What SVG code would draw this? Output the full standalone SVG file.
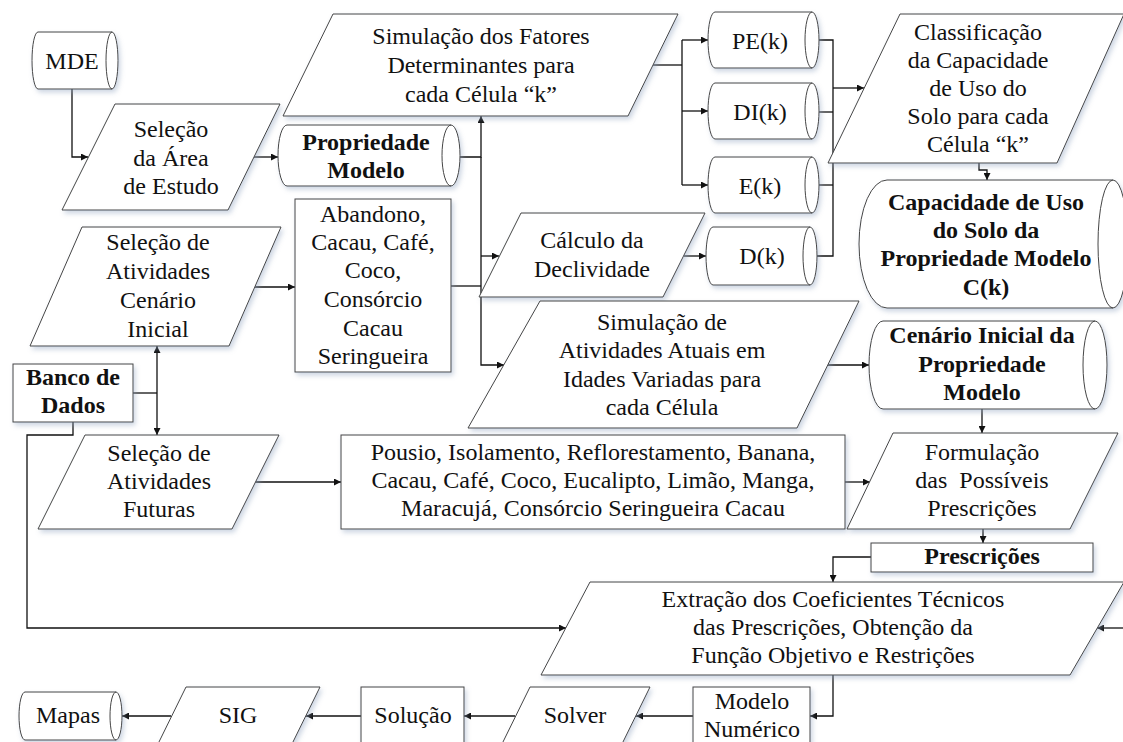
<svg xmlns="http://www.w3.org/2000/svg" width="1123" height="742" viewBox="0 0 1123 742">
<defs>
<style>
.s{fill:#fff;stroke:#454545;stroke-width:1;filter:url(#sh)}
.i{fill:none;stroke:#454545;stroke-width:1}
.t{font-family:"Liberation Serif","Times New Roman",serif;font-size:24px;fill:#111;text-anchor:middle}
.b{font-weight:bold}
.c{fill:none;stroke:#111;stroke-width:1.3}
.a{marker-end:url(#ar)}
.a2{marker-start:url(#ar);marker-end:url(#ar)}
</style>
<marker id="ar" viewBox="0 0 10 10" refX="10" refY="5" markerWidth="9" markerHeight="7" orient="auto-start-reverse" markerUnits="userSpaceOnUse">
<path d="M0,0 L10,5 L0,10 z" fill="#111"/>
</marker>
<filter id="sh" x="-10%" y="-10%" width="130%" height="140%">
<feDropShadow dx="2" dy="3" stdDeviation="2.5" flood-color="#8fa3c0" flood-opacity="0.45"/>
</filter>
</defs>
<rect width="1123" height="742" fill="#fff"/>

<g id="connectors">
<path class="c a" d="M72,89 V157 H88"/>
<path class="c a" d="M254,157 H278"/>
<path class="c a" d="M460,157 H481 V116"/>
<path class="c a" d="M481,157 V365 H504"/>
<path class="c" d="M451,286 H481"/>
<path class="c a" d="M481,256 H499"/>
<path class="c a" d="M684,256 H706"/>
<path class="c" d="M653,65 H682"/>
<path class="c" d="M682,40 V185"/>
<path class="c a" d="M682,40 H708"/>
<path class="c a" d="M682,111 H708"/>
<path class="c a" d="M682,185 H708"/>
<path class="c" d="M819,40 H833 V256 H817"/>
<path class="c" d="M819,112 H833"/>
<path class="c" d="M819,185 H833"/>
<path class="c a" d="M833,88 H864"/>
<path class="c a" d="M979,163 V170 H987 V180"/>
<path class="c a" d="M828,365 H869"/>
<path class="c a" d="M982,409 V433"/>
<path class="c a" d="M255,287 H295"/>
<path class="c" d="M133,393 H157"/>
<path class="c a2" d="M157,346 V435"/>
<path class="c a" d="M73,422 V435 H27 V628 H566"/>
<path class="c a" d="M255,482 H341"/>
<path class="c a" d="M845,482 H870"/>
<path class="c a" d="M983,529 V543"/>
<path class="c a" d="M871,557 H833 V582"/>
<path class="c a" d="M1123,628 H1097"/>
<path class="c a" d="M833,675 V716 H810"/>
<path class="c a" d="M693,716 H636"/>
<path class="c a" d="M515,716 H464"/>
<path class="c a" d="M361,716 H306"/>
<path class="c a" d="M171,716 H122"/>
</g>

<g id="mde">
<path class="s" d="M38,32 H112 A6,28.5 0 0 1 112,89 H38 A6,28.5 0 0 1 38,32 Z"/>
<path class="i" d="M112,32 A6,28.5 0 0 0 112,89"/>
<text class="t" x="72" y="69">MDE</text>
</g>

<g id="selecao-area">
<polygon class="s" points="115,104 280,104 228,210 62,210"/>
<text class="t" x="171" y="137">Seleção</text>
<text class="t" x="171" y="166">da Área</text>
<text class="t" x="171" y="194">de Estudo</text>
</g>

<g id="propriedade-modelo">
<path class="s" d="M287,125 H451 A9,30.5 0 0 1 451,186 H287 A9,30.5 0 0 1 287,125 Z"/>
<path class="i" d="M451,125 A9,30.5 0 0 0 451,186"/>
<text class="t b" x="366" y="150">Propriedade</text>
<text class="t b" x="366" y="178">Modelo</text>
</g>

<g id="simulacao-fatores">
<polygon class="s" points="333,14 678,14 628,116 283,116"/>
<text class="t" x="481" y="44">Simulação dos Fatores</text>
<text class="t" x="481" y="73">Determinantes para</text>
<text class="t" x="481" y="102">cada Célula “k”</text>
</g>

<g id="pe">
<path class="s" d="M715,12 H812 A7,28 0 0 1 812,68 H715 A7,28 0 0 1 715,12 Z"/>
<path class="i" d="M812,12 A7,28 0 0 0 812,68"/>
<text class="t" x="760" y="49">PE(k)</text>
</g>

<g id="di">
<path class="s" d="M715,83 H812 A7,28 0 0 1 812,139 H715 A7,28 0 0 1 715,83 Z"/>
<path class="i" d="M812,83 A7,28 0 0 0 812,139"/>
<text class="t" x="760" y="120">DI(k)</text>
</g>

<g id="e">
<path class="s" d="M715,157 H812 A7,28 0 0 1 812,213 H715 A7,28 0 0 1 715,157 Z"/>
<path class="i" d="M812,157 A7,28 0 0 0 812,213"/>
<text class="t" x="760" y="194">E(k)</text>
</g>

<g id="d">
<path class="s" d="M713,227 H810 A7,29 0 0 1 810,285 H713 A7,29 0 0 1 713,227 Z"/>
<path class="i" d="M810,227 A7,29 0 0 0 810,285"/>
<text class="t" x="762" y="264">D(k)</text>
</g>

<g id="classificacao">
<polygon class="s" points="900,14 1124,14 1057,163 828,163"/>
<text class="t" x="978" y="40">Classificação</text>
<text class="t" x="978" y="68">da Capacidade</text>
<text class="t" x="978" y="96">de Uso do</text>
<text class="t" x="978" y="124">Solo para cada</text>
<text class="t" x="978" y="152">Célula “k”</text>
</g>

<g id="capacidade">
<path class="s" d="M887,180 H1113 A15,64 0 0 1 1113,308 H887 A28,64 0 0 1 887,180 Z"/>
<path class="i" d="M1113,180 A15,64 0 0 0 1113,308"/>
<text class="t b" x="986" y="210">Capacidade de Uso</text>
<text class="t b" x="986" y="238">do Solo da</text>
<text class="t b" x="986" y="266">Propriedade Modelo</text>
<text class="t b" x="986" y="295">C(k)</text>
</g>

<g id="selecao-cenario">
<polygon class="s" points="82,227 281,227 229,346 30,346"/>
<text class="t" x="158" y="250">Seleção de</text>
<text class="t" x="158" y="279">Atividades</text>
<text class="t" x="158" y="308">Cenário</text>
<text class="t" x="158" y="337">Inicial</text>
</g>

<g id="atividades-iniciais">
<rect class="s" x="295" y="199" width="156" height="173"/>
<text class="t" x="373" y="222">Abandono,</text>
<text class="t" x="373" y="250">Cacau, Café,</text>
<text class="t" x="373" y="278">Coco,</text>
<text class="t" x="373" y="307">Consórcio</text>
<text class="t" x="373" y="336">Cacau</text>
<text class="t" x="373" y="364">Seringueira</text>
</g>

<g id="calculo">
<polygon class="s" points="521,213 705,213 663,297 479,297"/>
<text class="t" x="592" y="248">Cálculo da</text>
<text class="t" x="592" y="277">Declividade</text>
</g>

<g id="simulacao-atividades">
<polygon class="s" points="540,301 859,301 797,428 468,428"/>
<text class="t" x="662" y="330">Simulação de</text>
<text class="t" x="662" y="358">Atividades Atuais em</text>
<text class="t" x="662" y="387">Idades Variadas para</text>
<text class="t" x="662" y="415">cada Célula</text>
</g>

<g id="cenario-inicial">
<path class="s" d="M883,321 H1095 A12,44 0 0 1 1095,409 H883 A14,44 0 0 1 883,321 Z"/>
<path class="i" d="M1095,321 A12,44 0 0 0 1095,409"/>
<text class="t b" x="982" y="343">Cenário Inicial da</text>
<text class="t b" x="982" y="372">Propriedade</text>
<text class="t b" x="982" y="400">Modelo</text>
</g>

<g id="banco-dados">
<rect class="s" x="13" y="364" width="120" height="58"/>
<text class="t b" x="73" y="385">Banco de</text>
<text class="t b" x="73" y="413">Dados</text>
</g>

<g id="selecao-futuras">
<polygon class="s" points="85,435 279,435 232,529 38,529"/>
<text class="t" x="159" y="461">Seleção de</text>
<text class="t" x="159" y="489">Atividades</text>
<text class="t" x="159" y="517">Futuras</text>
</g>

<g id="atividades-futuras">
<rect class="s" x="341" y="435" width="504" height="94"/>
<text class="t" x="593" y="460">Pousio, Isolamento, Reflorestamento, Banana,</text>
<text class="t" x="593" y="488">Cacau, Café, Coco, Eucalipto, Limão, Manga,</text>
<text class="t" x="593" y="516">Maracujá, Consórcio Seringueira Cacau</text>
</g>

<g id="formulacao">
<polygon class="s" points="893,433 1118,433 1070,529 847,529"/>
<text class="t" x="982" y="460">Formulação</text>
<text class="t" x="982" y="488" xml:space="preserve">das  Possíveis</text>
<text class="t" x="982" y="516">Prescrições</text>
</g>

<g id="prescricoes">
<rect class="s" x="871" y="543" width="222" height="29"/>
<text class="t b" x="982" y="564">Prescrições</text>
</g>

<g id="extracao">
<polygon class="s" points="590,582 1124,582 1070,675 541,675"/>
<text class="t" x="833" y="607">Extração dos Coeficientes Técnicos</text>
<text class="t" x="833" y="635">das Prescrições, Obtenção da</text>
<text class="t" x="833" y="663">Função Objetivo e Restrições</text>
</g>

<g id="modelo-numerico">
<rect class="s" x="693" y="687" width="117" height="66"/>
<text class="t" x="752" y="709">Modelo</text>
<text class="t" x="752" y="737">Numérico</text>
</g>

<g id="solver">
<polygon class="s" points="530,687 650,687 620,748 500,748"/>
<text class="t" x="575" y="723">Solver</text>
</g>

<g id="solucao">
<rect class="s" x="361" y="687" width="103" height="66"/>
<text class="t" x="413" y="723">Solução</text>
</g>

<g id="sig">
<polygon class="s" points="186,687 320,687 290,748 156,748"/>
<text class="t" x="238" y="723">SIG</text>
</g>

<g id="mapas">
<path class="s" d="M25,692 H116 A6,24 0 0 1 116,740 H25 A6,24 0 0 1 25,692 Z"/>
<path class="i" d="M116,692 A6,24 0 0 0 116,740"/>
<text class="t" x="68" y="723">Mapas</text>
</g>
</svg>
